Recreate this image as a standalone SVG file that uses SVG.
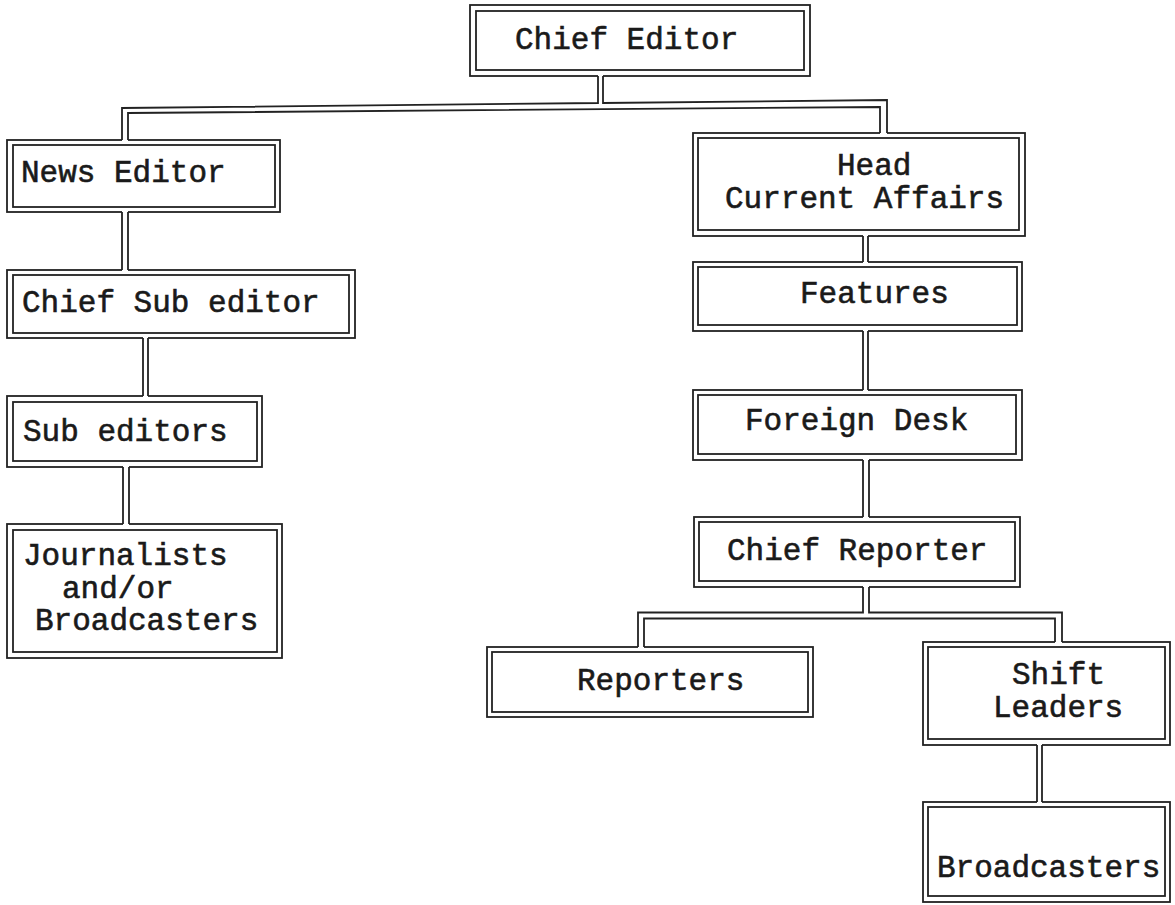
<svg xmlns="http://www.w3.org/2000/svg" width="1175" height="905" viewBox="0 0 1175 905">
<style>
.o{fill:#fff;stroke:#222;stroke-width:1.8}
.i{fill:none;stroke:#222;stroke-width:1.8}
.w{fill:none;stroke:#222;stroke-width:1.8}
.m{fill:#fff;stroke:none}
text{font-family:"Liberation Mono","Courier New",monospace;font-size:31px;fill:#1a1a1a;stroke:#1a1a1a;stroke-width:0.6}
</style>
<rect width="1175" height="905" fill="#fff"/>
<g id="chief-editor"><rect class="o" x="470" y="5" width="340" height="71"/><rect class="i" x="476" y="11" width="328" height="59"/><text x="515" y="49">Chief Editor</text></g>
<g id="news-editor"><rect class="o" x="7" y="140" width="273" height="72"/><rect class="i" x="13" y="145" width="262" height="62"/><text x="21" y="182">News Editor</text></g>
<g id="chief-sub-editor"><rect class="o" x="7" y="270" width="348" height="68"/><rect class="i" x="13" y="275" width="336" height="58"/><text x="22" y="312">Chief Sub editor</text></g>
<g id="sub-editors"><rect class="o" x="7" y="396" width="255" height="71"/><rect class="i" x="13" y="402" width="244" height="59"/><text x="23" y="441">Sub editors</text></g>
<g id="journalists"><rect class="o" x="7" y="524" width="275" height="134"/><rect class="i" x="13" y="530" width="264" height="122"/><text x="23" y="565">Journalists</text><text x="62" y="598">and/or</text><text x="35" y="630">Broadcasters</text></g>
<g id="head-current-affairs"><rect class="o" x="693" y="133" width="332" height="103"/><rect class="i" x="698" y="138" width="321" height="92"/><text x="837" y="175">Head</text><text x="725" y="208">Current Affairs</text></g>
<g id="features"><rect class="o" x="693" y="262" width="329" height="69"/><rect class="i" x="698" y="267" width="319" height="58"/><text x="800" y="303">Features</text></g>
<g id="foreign-desk"><rect class="o" x="693" y="390" width="329" height="70"/><rect class="i" x="698" y="395" width="318" height="59"/><text x="745" y="430">Foreign Desk</text></g>
<g id="chief-reporter"><rect class="o" x="694" y="517" width="326" height="70"/><rect class="i" x="699" y="522" width="316" height="59"/><text x="727" y="560">Chief Reporter</text></g>
<g id="reporters"><rect class="o" x="487" y="647" width="326" height="70"/><rect class="i" x="492" y="652" width="316" height="60"/><text x="577" y="690">Reporters</text></g>
<g id="shift-leaders"><rect class="o" x="923" y="642" width="247" height="103"/><rect class="i" x="928" y="647" width="237" height="92"/><text x="1012" y="684">Shift</text><text x="993" y="717">Leaders</text></g>
<g id="broadcasters"><rect class="o" x="923" y="802" width="247" height="100"/><rect class="i" x="928" y="807" width="237" height="89"/><text x="937" y="877">Broadcasters</text></g>
<g id="connectors">
<polygon class="m" points="598,73 603,73 603,103 887,100 887,135.5 880,135.5 880,107 128,113 128,142.5 122,142.5 122,108 598,103"/>
<path class="w" d="M598,76 L598,103 L122,108 L122,140 M603,76 L603,103 L887,100 L887,133 M128,140 L128,113 L880,107 L880,133"/>
<rect class="m" x="122" y="209" width="6" height="64"/><path class="w" d="M122,212 V270 M128,212 V270"/>
<rect class="m" x="143" y="335" width="5" height="65"/><path class="w" d="M143,338 V396 M148,338 V396"/>
<rect class="m" x="123" y="464" width="6" height="63"/><path class="w" d="M123,467 V524 M129,467 V524"/>
<rect class="m" x="863" y="233" width="5" height="32"/><path class="w" d="M863,236 V262 M868,236 V262"/>
<rect class="m" x="863" y="328" width="5" height="65"/><path class="w" d="M863,331 V390 M868,331 V390"/>
<rect class="m" x="863" y="457" width="6" height="63"/><path class="w" d="M863,460 V517 M869,460 V517"/>
<polygon class="m" points="863,584 869,584 869,612.5 1062,612.5 1062,644.5 1055,644.5 1055,618.5 644,618.5 644,649.5 638,649.5 638,612.5 863,612.5"/>
<path class="w" d="M863,587 V612.5 H638 V647 M869,587 V612.5 H1062 V642 M644,647 V618.5 H1055 V642"/>
<rect class="m" x="1037" y="742" width="5" height="63"/><path class="w" d="M1037,745 V802 M1042,745 V802"/>
</g>
</svg>
